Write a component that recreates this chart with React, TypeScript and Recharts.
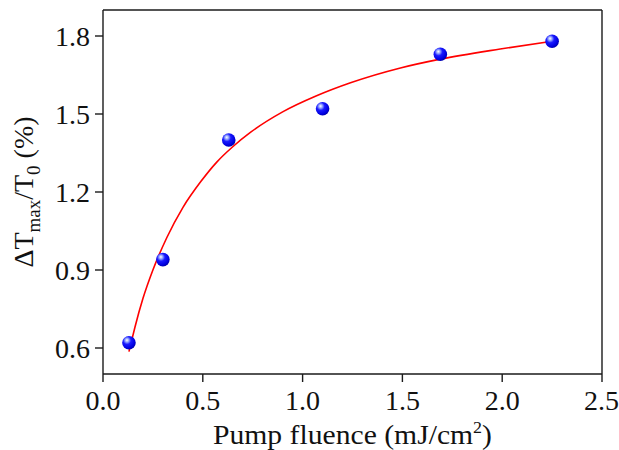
import React from 'react';
import { ComposedChart, Line, Scatter, XAxis, YAxis, ReferenceLine } from 'recharts';

const fluence = [0.13, 0.3, 0.63, 1.1, 1.69, 2.25];
const transmission = [0.62, 0.94, 1.4, 1.52, 1.73, 1.78];

const fitX = [0.13, 0.14, 0.16, 0.2, 0.25, 0.32, 0.4, 0.49, 0.57, 0.65, 0.74, 0.9, 1.07, 1.24, 1.49, 1.69, 1.99, 2.25];
const fitY = [0.586, 0.618, 0.68, 0.79, 0.9, 1.025, 1.14, 1.24, 1.315, 1.374, 1.43, 1.508, 1.57, 1.62, 1.677, 1.711, 1.75, 1.78];

const xTicks = [0, 0.5, 1.0, 1.5, 2.0, 2.5];
const yTicks = [0.6, 0.9, 1.2, 1.5, 1.8];

const points = fluence.map((x, i) => ({ x, y: transmission[i] }));
const curve = fitX.map((x, i) => ({ x, y: fitY[i] }));

const FONT = '"Liberation Serif", "Times New Roman", serif';
const AX = '#1a1a1a';

const Ball = (props: any) => {
  const { cx, cy } = props;
  if (cx == null || cy == null) return null;
  return <circle cx={cx} cy={cy} r={6.8} fill="url(#ballGrad)" />;
};

const YLabel = (props: any) => {
  const vb = props.viewBox || { x: 0, y: 10, width: 103, height: 364 };
  const cx = 33;
  const cy = vb.y + vb.height / 2;
  return (
    <text
      x={cx}
      y={cy}
      transform={`rotate(-90, ${cx}, ${cy})`}
      textAnchor="middle"
      fontFamily={FONT}
      fontSize={28}
      fill="#111"
    >
      <tspan>ΔT</tspan>
      <tspan fontSize={19} dy={7}>max</tspan>
      <tspan dy={-7}>/T</tspan>
      <tspan fontSize={19} dy={7}>0</tspan>
      <tspan dy={-7}> (%)</tspan>
    </text>
  );
};

const XLabel = (props: any) => {
  const vb = props.viewBox || { x: 103, y: 374, width: 499, height: 76 };
  const cx = vb.x + vb.width / 2;
  const y = vb.y + 70;
  return (
    <text
      x={cx}
      y={y}
      textAnchor="middle"
      fontFamily={FONT}
      fontSize={28}
      fill="#111"
      textLength={279}
      lengthAdjust="spacingAndGlyphs"
    >
      Pump fluence (mJ/cm
      <tspan fontSize={17} dy={-11}>2</tspan>
      <tspan dy={11}>)</tspan>
    </text>
  );
};

export default function App() {
  return (
    <div style={{ position: 'absolute', left: 0, top: 0, width: 619, height: 450, background: '#fff' }}>
      <ComposedChart
        width={619}
        height={450}
        margin={{ top: 10, right: 17, left: 0, bottom: 0 }}
      >
        <defs>
          <radialGradient id="ballGrad" cx="38%" cy="35%" r="65%" fx="35%" fy="30%">
            <stop offset="0%" stopColor="#ffffff" />
            <stop offset="22%" stopColor="#8fa0ff" />
            <stop offset="45%" stopColor="#1a1aff" />
            <stop offset="85%" stopColor="#0000e0" />
            <stop offset="100%" stopColor="#0000b0" />
          </radialGradient>
        </defs>
        <XAxis
          type="number"
          dataKey="x"
          domain={[0, 2.5]}
          ticks={xTicks}
          allowDataOverflow
          height={76}
          stroke={AX}
          strokeWidth={1.4}
          tickSize={8}
          tickMargin={8}
          tick={{ fill: '#111', fontSize: 28, fontFamily: FONT }}
          tickFormatter={(v: number) => v.toFixed(1)}
          label={<XLabel />}
        />
        <YAxis
          type="number"
          dataKey="y"
          domain={[0.5, 1.9]}
          ticks={yTicks}
          allowDataOverflow
          width={103}
          stroke={AX}
          strokeWidth={1.4}
          tickSize={8}
          tickMargin={5}
          tick={{ fill: '#111', fontSize: 28, fontFamily: FONT }}
          tickFormatter={(v: number) => v.toFixed(1)}
          label={<YLabel />}
        />
        <ReferenceLine y={1.9} stroke={AX} strokeWidth={1.4} />
        <ReferenceLine x={2.5} stroke={AX} strokeWidth={1.4} />
        <Line
          data={curve}
          dataKey="y"
          type="monotone"
          stroke="#ff0000"
          strokeWidth={1.6}
          dot={false}
          activeDot={false}
          isAnimationActive={false}
        />
        <Scatter data={points} dataKey="y" shape={<Ball />} isAnimationActive={false} />
      </ComposedChart>
    </div>
  );
}
